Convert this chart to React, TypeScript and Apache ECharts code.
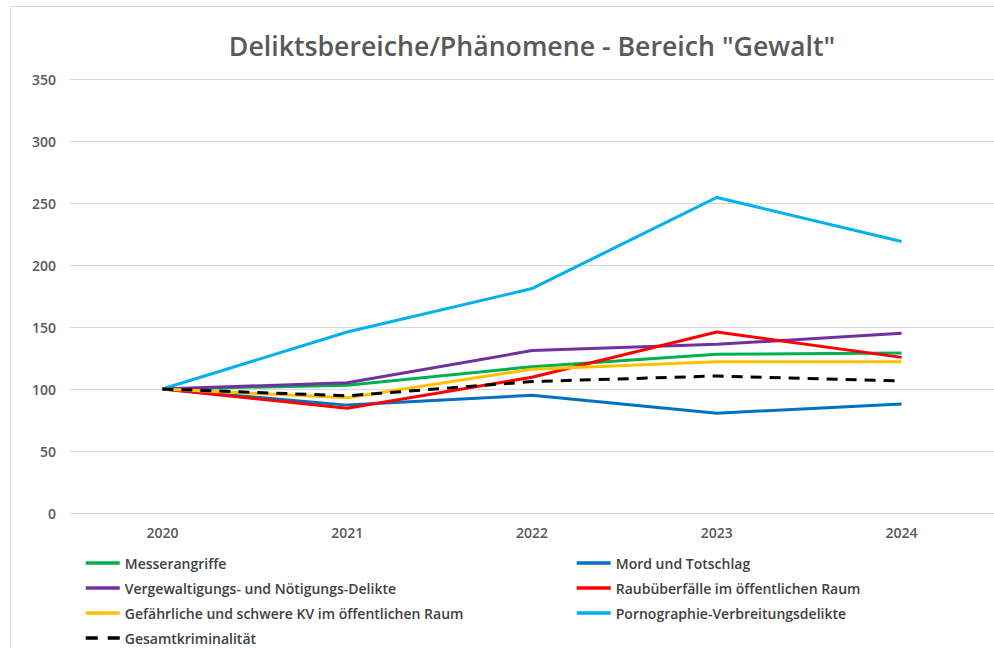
import React, { useEffect, useRef } from "react";
import * as echarts from "echarts";

const years = ["2020", "2021", "2022", "2023", "2024"];
const messerangriffe = [100, 103, 118, 128, 129];
const mordTotschlag = [100, 87, 95, 80.5, 88];
const vergewaltigung = [100, 105, 131, 136, 145];
const raub = [100, 84.5, 109.5, 146, 125.5];
const gefaehrlicheKV = [100, 93, 116, 122, 122];
const pornographie = [100, 146, 181, 254.5, 219];
const gesamt = [100, 94.5, 106, 110.5, 106.5];

const titleText = 'Deliktsbereiche/Phänomene - Bereich "Gewalt"';
const FONT = "'Open Sans', 'Noto Sans', sans-serif";

const legendCol1 = ["Messerangriffe", "Vergewaltigungs- und Nötigungs-Delikte", "Gefährliche und schwere KV im öffentlichen Raum", "Gesamtkriminalität"];
const legendCol2 = ["Mord und Totschlag", "Raubüberfälle im öffentlichen Raum", "Pornographie-Verbreitungsdelikte"];

export default function App() {
  const ref = useRef<HTMLDivElement>(null);
  useEffect(() => {
    if (!ref.current) return;
    const chart = echarts.init(ref.current, null, { renderer: "svg" });
    const mk = (name: string, data: number[], color: string, dashed = false) => ({
      name,
      type: "line",
      data,
      symbol: "none",
      showSymbol: false,
      lineStyle: { color, width: 3, type: dashed ? [11, 8] : "solid" },
      itemStyle: { color },
      emphasis: { disabled: true },
    });
    const legendText = { fontFamily: FONT, fontSize: 14, fontWeight: 600, color: "#404040" };
    const rowTops = [556, 581, 606, 631];
    const mkLegend = (name: string, left: number, top: number) => ({
      orient: "horizontal",
      left,
      top,
      padding: 0,
      itemWidth: 34,
      itemHeight: 14,
      itemGap: 0,
      itemStyle: { opacity: 0 },
      lineStyle: name === "Gesamtkriminalität" ? { width: 3.5, type: [12, 10] } : { width: 3.5 },
      textStyle: legendText,
      selectedMode: false,
      data: [name],
    });
    const legends = [
      ...legendCol1.map((n, i) => mkLegend(n, 84, rowTops[i])),
      ...legendCol2.map((n, i) => mkLegend(n, 575, rowTops[i])),
    ];
    chart.setOption({
      animation: false,
      backgroundColor: "#ffffff",
      textStyle: { fontFamily: FONT },
      title: {
        text: titleText,
        left: 527,
        textAlign: "center",
        top: 27,
        textStyle: { fontFamily: FONT, fontSize: 26.7, fontWeight: 600, color: "#595959" },
      },
      graphic: [
        {
          type: "polyline",
          shape: { points: [[10.5, 648], [10.5, 6.5], [994, 6.5]] },
          style: { stroke: "#d9d9d9", lineWidth: 1, fill: "none" },
          silent: true,
        },
      ],
      grid: { left: 70, right: -9, top: 79, bottom: 135, containLabel: false },
      xAxis: {
        type: "category",
        data: years,
        boundaryGap: true,
        axisLine: { show: true, lineStyle: { color: "#d9d9d9", width: 1 } },
        axisTick: { show: false },
        axisLabel: { fontFamily: FONT, fontSize: 14, fontWeight: 600, color: "#595959", margin: 12 },
      },
      yAxis: {
        type: "value",
        min: 0,
        max: 350,
        interval: 50,
        axisLine: { show: false },
        axisTick: { show: false },
        splitLine: { lineStyle: { color: "#d9d9d9", width: 1 } },
        axisLabel: { fontFamily: FONT, fontSize: 14, fontWeight: 600, color: "#595959", margin: 14 },
      },
      legend: legends,
      series: [
        mk("Messerangriffe", messerangriffe, "#00B050"),
        mk("Mord und Totschlag", mordTotschlag, "#0070C0"),
        mk("Vergewaltigungs- und Nötigungs-Delikte", vergewaltigung, "#7030A0"),
        mk("Raubüberfälle im öffentlichen Raum", raub, "#FF0000"),
        mk("Gefährliche und schwere KV im öffentlichen Raum", gefaehrlicheKV, "#FFC000"),
        mk("Pornographie-Verbreitungsdelikte", pornographie, "#00B0F0"),
        mk("Gesamtkriminalität", gesamt, "#000000", true),
      ],
    });
    return () => chart.dispose();
  }, []);
  return (
    <div
      ref={ref}
      style={{ position: "fixed", left: 0, top: 0, width: 994, height: 648, overflow: "hidden" }}
    />
  );
}
